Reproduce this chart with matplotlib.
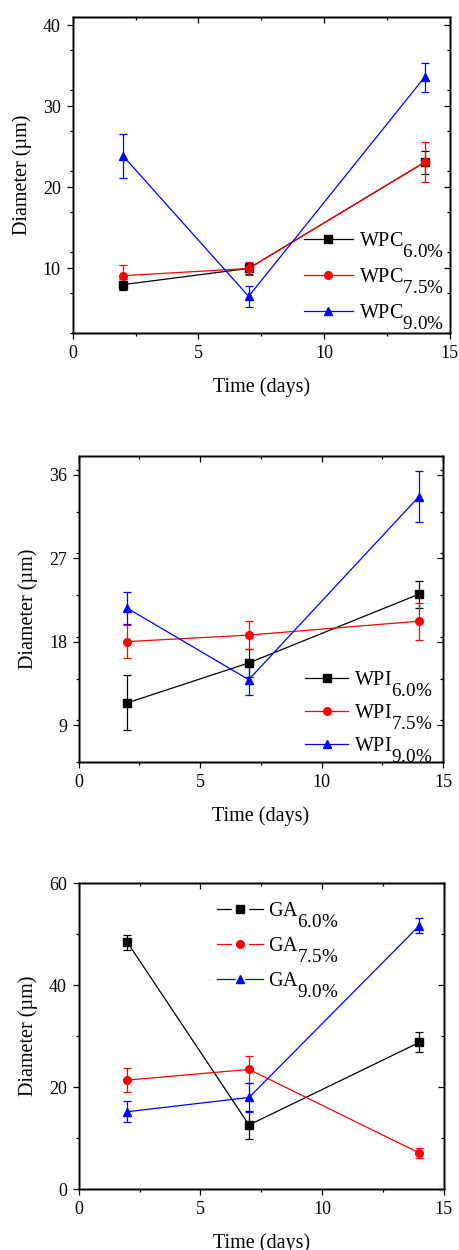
import matplotlib
matplotlib.use("Agg")
import numpy as np
import matplotlib.pyplot as plt
from matplotlib.lines import Line2D
from matplotlib.legend_handler import HandlerTuple
import matplotlib._mathtext as _mt

# larger, lower subscripts (Origin-style legend labels)
_mt.SHRINK_FACTOR = 0.95
_mt.FontConstantsBase.sub1 = 1.1

plt.rcParams['font.family'] = ['Liberation Serif', 'DejaVu Serif']
plt.rcParams['mathtext.fontset'] = 'custom'
plt.rcParams['mathtext.rm'] = 'Liberation Serif'
plt.rcParams['mathtext.it'] = 'Liberation Serif:italic'
plt.rcParams['mathtext.bf'] = 'Liberation Serif:bold'

# ---------------- data ----------------
days = [2, 7, 14]
conc_labels = ["6.0%", "7.5%", "9.0%"]

wpc_6 = [8.0, 10.0, 23.1]
wpc_6_err = [0.65, 0.7, 1.4]
wpc_75 = [9.1, 10.0, 23.1]
wpc_75_err = [1.3, 0.8, 2.45]
wpc_9 = [23.9, 6.55, 33.6]
wpc_9_err = [2.75, 1.3, 1.8]

wpi_6 = [11.4, 15.7, 23.1]
wpi_6_err = [2.95, 1.5, 1.45]
wpi_75 = [18.0, 18.7, 20.2]
wpi_75_err = [1.75, 1.55, 2.0]
wpi_9 = [21.6, 13.9, 33.6]
wpi_9_err = [1.75, 1.7, 2.75]

ga_6 = [48.4, 12.6, 28.8]
ga_6_err = [1.5, 2.65, 1.95]
ga_75 = [21.4, 23.5, 7.1]
ga_75_err = [2.4, 2.6, 1.0]
ga_9 = [15.2, 18.0, 51.7]
ga_9_err = [2.1, 2.9, 1.5]

colors = ['#000000', '#ff0000', '#0000ff']
markers = ['s', 'o', '^']

fig = plt.figure(figsize=(4.59, 12.5), dpi=100)

ax1 = fig.add_axes([0.1584, 0.7334, 0.8214, 0.2528])
ax2 = fig.add_axes([0.1715, 0.3902, 0.7937, 0.2450])
ax3 = fig.add_axes([0.1715, 0.0486, 0.7952, 0.2448])

panels = [
    (ax1, "WPC", [(wpc_6, wpc_6_err), (wpc_75, wpc_75_err), (wpc_9, wpc_9_err)],
     (2, 41), [10, 20, 30, 40], 5,
     dict(loc='lower right', bbox_to_anchor=(0.985, 0.007), labelspacing=0.35,
          handlelength=2.45, handletextpad=0.3)),
    (ax2, "WPI", [(wpi_6, wpi_6_err), (wpi_75, wpi_75_err), (wpi_9, wpi_9_err)],
     (5, 38), [9, 18, 27, 36], 4.5,
     dict(loc='lower right', bbox_to_anchor=(0.97, -0.005), labelspacing=0.2,
          handlelength=2.15, handletextpad=0.28)),
    (ax3, "GA", [(ga_6, ga_6_err), (ga_75, ga_75_err), (ga_9, ga_9_err)],
     (0, 60), [0, 20, 40, 60], 10,
     dict(loc='upper left', bbox_to_anchor=(0.378, 0.945), labelspacing=0.3,
          handlelength=2.3, handletextpad=0.25)),
]

xt_major = [0, 5, 10, 15]
xt_minor = [2.5, 7.5, 12.5]

for ax, name, series, ylim, yticks, yminor, legkw in panels:
    handles = []
    labels = []
    for (vals, errs), c, m, cl in zip(series, colors, markers, conc_labels):
        ax.errorbar(days, vals, yerr=errs, color=c, marker=m, ms=5.5,
                    lw=0.9, elinewidth=0.9, capsize=2.6, capthick=0.9)
        labels.append(name + r"$_{\mathrm{" + cl.replace('%', r'\%') + "}}$")
        if name == "GA":
            handles.append((Line2D([], [], color=c, lw=0.9),
                            Line2D([], [], marker=m, ls='none', ms=11,
                                   mec='white', mfc='white'),
                            Line2D([], [], marker=m, ls='none', ms=5.5,
                                   mec=c, mfc=c)))
        else:
            handles.append(Line2D([], [], color=c, lw=0.9, marker=m, ms=5.5))
    mins = np.arange(ylim[0], ylim[1] + 0.01, yminor)
    mins = [v for v in mins if all(abs(v - t) > 1e-6 for t in yticks)]

    ax.set_xlim(0, 15)
    ax.set_ylim(*ylim)
    ax.set_xticks(xt_major)
    ax.set_xticks(xt_minor, minor=True)
    ax.set_yticks(yticks)
    ax.set_yticks(mins, minor=True)
    ax.tick_params(which='major', direction='out', length=4, width=0.9,
                   labelsize=13, pad=4.5)
    ax.tick_params(which='minor', direction='out', length=2.5, width=0.9)
    for s in ax.spines.values():
        s.set_linewidth(1.0)

    # inward ticks on the right and top frames
    axr = ax.twinx()
    axr.set_ylim(*ylim)
    axr.set_yticks(yticks)
    axr.set_yticks(mins, minor=True)
    axr.tick_params(which='both', direction='in', labelright=False, width=0.9)
    axr.tick_params(which='major', length=4)
    axr.tick_params(which='minor', length=2.5)
    axt = ax.twiny()
    axt.set_xlim(0, 15)
    axt.set_xticks(xt_major)
    axt.set_xticks(xt_minor, minor=True)
    axt.tick_params(which='both', direction='in', labeltop=False, width=0.9)
    axt.tick_params(which='major', length=4)
    axt.tick_params(which='minor', length=2.5)
    for a in (axr, axt):
        for s in a.spines.values():
            s.set_linewidth(1.0)

    ax.set_xlabel("Time (days)", fontsize=14.5, labelpad=11)
    ax.set_ylabel("Diameter (µm)", fontsize=14.5, labelpad=8)

    extra = {}
    if name == "GA":
        extra['handler_map'] = {tuple: HandlerTuple(ndivide=1, pad=0)}
    leg = axt.legend(handles, labels, frameon=False, fontsize=14.5,
                     borderpad=0, borderaxespad=0,
                     bbox_transform=ax.transAxes, **legkw, **extra)

fig.savefig("out.png", dpi=100)
